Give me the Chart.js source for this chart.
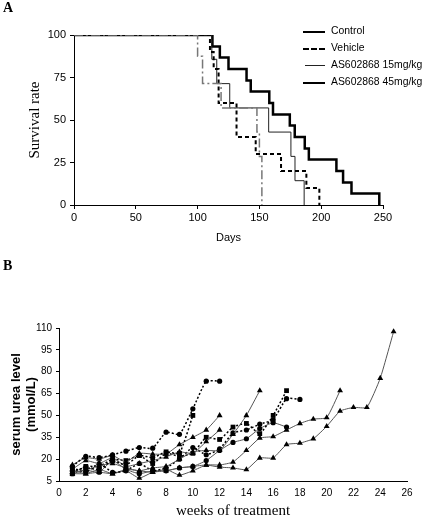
<!DOCTYPE html>
<html>
<head>
<meta charset="utf-8">
<script src="https://cdn.jsdelivr.net/npm/chart.js@4"></script>
<style>
  body { margin: 0; background: #fff; }
  #wrap { position: relative; width: 422px; height: 519px; background: #fff; overflow: hidden; }
  .panelLabel { position: absolute; left: 3px; font: bold 14px 'Liberation Serif', 'Times New Roman', serif; }
  #legend { position: absolute; left: 303px; top: 24px; font: 10.4px 'Liberation Sans', Arial, sans-serif; z-index: 2; }
  #legend .row { position: relative; height: 17px; }
  #legend .key { position: absolute; left: 0; top: 7px; width: 22px; border-top: 2px solid #000; }
  #legend .txt { position: absolute; left: 28px; top: 0; line-height: 14px; white-space: nowrap; }
  canvas { position: absolute; left: 0; }
</style>
</head>
<body>
<div id="wrap">
  <canvas id="survivalChart" width="422" height="250" style="top:0"></canvas>
  <canvas id="ureaChart" width="422" height="264" style="top:255px"></canvas>
  <div class="panelLabel" style="top:0px">A</div>
  <div class="panelLabel" style="top:258px">B</div>
  <div id="legend">
    <div class="row"><div class="key"></div><div class="txt">Control</div></div>
    <div class="row"><div class="key" style="border-top:2px dashed #000"></div><div class="txt">Vehicle</div></div>
    <div class="row"><div class="key" style="border-top:1px solid #222;left:2px;width:20px"></div><div class="txt">AS602868 15mg/kg</div></div>
    <div class="row"><div class="key"></div><div class="txt">AS602868 45mg/kg</div></div>
  </div>
</div>
<script>
// Panel A - Kaplan-Meier, punto = (dia, supervivencia despues del evento)
const controlDays = [0, 100, 104, 119, 148, 150, 152];
const controlSurv = [100, 87.5, 71.4, 57.1, 42.9, 28.6, 0];

const vehicleDays = [0, 110, 113, 117, 131.5, 147, 167.5, 188, 198.5];
const vehicleSurv = [100, 90, 80, 60, 40, 30, 20, 10, 0];

const low15Days = [0, 111.5, 115.5, 126, 157.5, 175.5, 178.8, 186.2];
const low15Surv = [100, 85.7, 71.4, 57.1, 42.9, 28.6, 14.3, 0];

const high45Days = [0, 112, 118, 125, 139.6, 143, 158, 161, 174.6, 178.6, 186.7, 190, 212.3, 217.7, 224.5, 247];
const high45Surv = [100, 93.3, 86.7, 80, 73.3, 66.7, 60, 53.3, 46.7, 40, 33.3, 26.7, 20, 13.3, 6.7, 0];

const dayTicks = [0, 50, 100, 150, 200, 250];
const survTicks = [0, 25, 50, 75, 100];

// Panel B - urea serica por raton (semana 1 en adelante)
const weeks = [1, 2, 3, 4, 5, 6, 7, 8, 9, 10, 11, 12, 13, 14, 15, 16, 17, 18, 19, 20, 21, 22, 23, 24, 25];
const mouse1 = [15, 22, 21, 23, 25.5, 28, 27.5, 38.5, 37, 54.5, 73.5, 73.5];
const mouse2 = [12, 14, 13, 19, 16, 22.5, 21, 25, 24, 50];
const mouse3 = [16, 21, 20, 22.5, 18, 24, 23.5, 23.5, 30, 35, 40, 50];
const mouse4 = [13, 19, 17, 21, 15, 17, 19, 21.5, 25, 24, 32, 40];
const mouse5 = [11, 12.5, 15.5, 17, 14, 12, 14, 15, 20, 25, 26, 26, 37, 50, 67];
const mouse6 = [10, 15, 15, 20, 19, 22.5, 17, 24, 22, 24, 35, 33.5, 42, 44.5, 37.5, 50, 67];
const mouse7 = [14, 11, 17, 11, 12, 17, 12, 14, 20, 28, 23, 27, 38, 40, 44, 47, 61.5, 61];
const mouse8 = [10, 12.5, 11, 19, 13, 10, 12, 12, 14, 15, 19, 26, 31.5, 34, 41, 45, 42];
const mouse9 = [12.5, 10, 13, 10, 13, 12, 11, 13, 9, 12, 16, 16, 18, 26, 34.5, 35.5, 40, 44.5, 47.5, 48.5, 67];
const mouse10 = [10, 10, 11, 10, 12, 7, 11, 12, 14, 15, 16, 14.5, 14, 12.8, 20.8, 20.8, 30, 31, 34, 42.5, 53, 55.5, 55.5, 75.5, 107.5];
const weekTicks = [0, 2, 4, 6, 8, 10, 12, 14, 16, 18, 20, 22, 24, 26];
const ureaTicks = [5, 20, 35, 50, 65, 80, 95, 110];

const sans = "'Liberation Sans', Arial, sans-serif";
const serif = "'Liberation Serif', 'Times New Roman', serif";
Chart.defaults.font.family = sans;
Chart.defaults.color = '#000';
Chart.defaults.animation = false;

function toPoints(xs, ys) {
  return ys.map((y, i) => ({ x: xs[i], y: y }));
}

function stepSet(label, xs, ys, color, width, dash) {
  return {
    label: label,
    data: toPoints(xs, ys),
    stepped: 'before',
    borderColor: color,
    borderWidth: width,
    borderDash: dash,
    pointRadius: 0,
    fill: false
  };
}

function axisGrid() {
  return { display: true, drawOnChartArea: false, drawTicks: true, tickLength: 4, color: '#000' };
}

new Chart(document.getElementById('survivalChart'), {
  type: 'line',
  data: {
    datasets: [
      stepSet('Control', controlDays, controlSurv, '#777', 1.5, [9, 3, 2, 3]),
      stepSet('Vehicle', vehicleDays, vehicleSurv, '#000', 2, [4, 3]),
      stepSet('AS602868 15mg/kg', low15Days, low15Surv, '#222', 1, []),
      stepSet('AS602868 45mg/kg', high45Days, high45Surv, '#000', 2.5, [])
    ]
  },
  options: {
    responsive: false,
    layout: { padding: { left: 0, right: 39, top: 35, bottom: 0 } },
    plugins: { legend: { display: false }, tooltip: { enabled: false } },
    scales: {
      x: {
        type: 'linear',
        min: 0,
        max: 250,
        afterBuildTicks: s => { s.ticks = dayTicks.map(v => ({ value: v })); },
        ticks: { padding: 2, font: { size: 11 }, color: '#000' },
        grid: axisGrid(),
        border: { color: '#000', width: 1 },
        title: { display: true, text: 'Days', font: { size: 11 }, padding: { top: 0, bottom: 5 } },
        afterFit: s => { s.height = 45; }
      },
      y: {
        min: 0,
        max: 100,
        afterBuildTicks: s => { s.ticks = survTicks.map(v => ({ value: v })); },
        ticks: { padding: 4, font: { size: 11 }, color: '#000' },
        grid: axisGrid(),
        border: { color: '#000', width: 1 },
        title: { display: true, text: 'Survival rate', font: { family: serif, size: 15 }, padding: { top: 26, bottom: 0 } },
        afterFit: s => { s.width = 74; }
      }
    }
  }
});

function ureaSet(values, marker, dotted) {
  return {
    data: toPoints(weeks, values),
    borderColor: dotted ? '#000' : '#555',
    borderWidth: dotted ? 1.5 : 1,
    borderDash: dotted ? [2, 2] : [],
    tension: 0.15,
    pointStyle: marker,
    pointRadius: marker === 'circle' ? 2.6 : 3.4,
    pointBackgroundColor: '#000',
    pointBorderColor: '#000',
    pointBorderWidth: 0,
    fill: false
  };
}

new Chart(document.getElementById('ureaChart'), {
  type: 'line',
  data: {
    datasets: [
      ureaSet(mouse1, 'circle', true),
      ureaSet(mouse2, 'rect', true),
      ureaSet(mouse3, 'triangle', false),
      ureaSet(mouse4, 'triangle', false),
      ureaSet(mouse5, 'triangle', false),
      ureaSet(mouse6, 'rect', true),
      ureaSet(mouse7, 'circle', true),
      ureaSet(mouse8, 'circle', false),
      ureaSet(mouse9, 'triangle', false),
      ureaSet(mouse10, 'triangle', false)
    ]
  },
  options: {
    responsive: false,
    layout: { padding: { left: 0, right: 15, top: 73, bottom: 0 } },
    plugins: { legend: { display: false }, tooltip: { enabled: false } },
    scales: {
      x: {
        type: 'linear',
        min: 0,
        max: 26,
        afterBuildTicks: s => { s.ticks = weekTicks.map(v => ({ value: v })); },
        ticks: { padding: 6, font: { size: 10 }, color: '#000', maxRotation: 0 },
        grid: { display: true, drawOnChartArea: false, drawTicks: false, color: '#000' },
        border: { color: '#000', width: 1 },
        title: { display: true, text: 'weeks of treatment', font: { family: serif, size: 15, lineHeight: 1 }, padding: { top: 0, bottom: 0 } },
        afterFit: s => { s.height = 38; }
      },
      y: {
        min: 5,
        max: 110,
        afterBuildTicks: s => { s.ticks = ureaTicks.map(v => ({ value: v })); },
        ticks: { padding: 4, font: { size: 10 }, color: '#000' },
        grid: { display: true, drawOnChartArea: false, drawTicks: true, tickLength: 3, color: '#000' },
        border: { color: '#000', width: 1 },
        title: {
          display: true,
          text: ['serum urea level', '(mmol/L)'],
          font: { size: 13, weight: 'bold', lineHeight: '15px' },
          padding: { top: 8.5, bottom: 0 }
        },
        afterFit: s => { s.width = 59; }
      }
    }
  }
});
</script>
</body>
</html>
